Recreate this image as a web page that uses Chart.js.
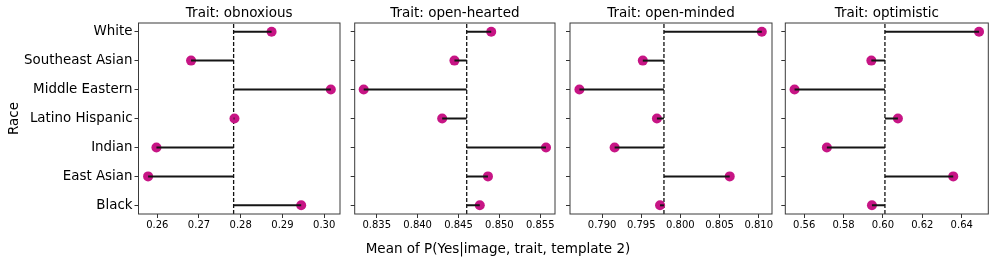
<!DOCTYPE html>
<html>
<head>
<meta charset="utf-8">
<script src="https://cdn.jsdelivr.net/npm/chart.js@4"></script>
<style>
  body { margin: 0; background: #fff; }
  #wrap { position: relative; width: 996px; height: 260px; overflow: hidden; font-family: 'DejaVu Sans', sans-serif; }
  canvas { position: absolute; top: 0; }
  #xtitle { position: absolute; left: 0; width: 996px; top: 240px; text-align: center; font-size: 13.5px; line-height: 16px; color: #000; }
</style>
</head>
<body>
<div id="wrap">
  <canvas id="c0"></canvas>
  <canvas id="c1"></canvas>
  <canvas id="c2"></canvas>
  <canvas id="c3"></canvas>
  <div id="xtitle">Mean of P(Yes|image, trait, template 2)</div>
</div>
<script>
// rows, bottom to top
const races = ['Black', 'East Asian', 'Indian', 'Latino Hispanic', 'Middle Eastern', 'Southeast Asian', 'White'];

const traits = ['obnoxious', 'open-hearted', 'open-minded', 'optimistic'];

const obnoxious   = [0.2945, 0.2578, 0.2598, 0.2785, 0.3016, 0.2681, 0.2874];
const openHearted = [0.8476, 0.8486, 0.8557, 0.8430, 0.8334, 0.8445, 0.8490];
const openMinded  = [0.7974, 0.8063, 0.7916, 0.7970, 0.7871, 0.7952, 0.8104];
const optimistic  = [0.5944, 0.6357, 0.5715, 0.6076, 0.5551, 0.5941, 0.6488];

// dashed reference line (mean of each panel)
const means = [0.2783, 0.8460, 0.7979, 0.6010];

const xMins = [0.2555, 0.8323, 0.7859, 0.5504];
const xMaxs = [0.3038, 0.8568, 0.8117, 0.6535];

const xTickLabels = [
  ['0.26', '0.27', '0.28', '0.29', '0.30'],
  ['0.835', '0.840', '0.845', '0.850', '0.855'],
  ['0.790', '0.795', '0.800', '0.805', '0.810'],
  ['0.56', '0.58', '0.60', '0.62', '0.64']
];

const seriesList = [obnoxious, openHearted, openMinded, optimistic];

const yMin = -0.3, yMax = 6.3;

// canvas placement: [canvas left, canvas width, y axis width, right padding]
const boxes = [
  [0, 345, 138.5, 3.5],
  [340, 220, 14.7, 3.3],
  [555, 222, 15, 3.7],
  [770, 226, 15.3, 7.7]
];

Chart.defaults.font.family = "'DejaVu Sans', sans-serif";
Chart.defaults.color = '#000';

const frame = {
  id: 'frame',
  afterDraw(chart) {
    const a = chart.chartArea, ctx = chart.ctx;
    ctx.save();
    ctx.strokeStyle = '#3a3a3a';
    ctx.lineWidth = 1;
    ctx.strokeRect(a.left, a.top, a.right - a.left, a.bottom - a.top);
    ctx.restore();
  }
};

traits.forEach((trait, p) => {
  const vals = seriesList[p];
  const mean = means[p];
  const b = boxes[p];
  const cv = document.getElementById('c' + p);
  cv.width = b[1];
  cv.height = 260;
  cv.style.left = b[0] + 'px';

  const datasets = [];
  // lollipop stems
  races.forEach((r, i) => {
    datasets.push({
      type: 'scatter',
      data: [{x: mean, y: i}, {x: vals[i], y: i}],
      showLine: true,
      borderColor: '#151515',
      borderWidth: 2,
      pointRadius: 0,
      order: 0
    });
  });
  // points
  datasets.push({
    type: 'scatter',
    data: races.map((r, i) => ({x: vals[i], y: i})),
    pointRadius: 5,
    pointBackgroundColor: '#c71585',
    pointBorderWidth: 0,
    order: 1
  });
  // mean line
  datasets.push({
    type: 'scatter',
    data: [{x: mean, y: yMin}, {x: mean, y: yMax}],
    showLine: true,
    borderColor: '#111',
    borderWidth: 1.3,
    borderDash: [4, 2],
    pointRadius: 0,
    order: 2
  });

  new Chart(cv, {
    type: 'scatter',
    data: { datasets },
    options: {
      responsive: false,
      animation: false,
      devicePixelRatio: 1,
      layout: { padding: { left: 0, right: b[3], top: 0, bottom: 0 } },
      plugins: {
        legend: { display: false },
        tooltip: { enabled: false },
        title: {
          display: true,
          fullSize: false,
          text: 'Trait: ' + trait,
          font: { size: 13.5, weight: 'normal', lineHeight: 1.2 },
          color: '#000',
          padding: { top: 5.5, bottom: 1.3 }
        }
      },
      scales: {
        x: {
          type: 'linear',
          min: xMins[p],
          max: xMaxs[p],
          afterBuildTicks: s => { s.ticks = xTickLabels[p].map(t => ({ value: parseFloat(t) })); },
          afterFit: s => { s.height = 46; },
          ticks: {
            font: { size: 10 },
            color: '#000',
            padding: 1,
            maxRotation: 0,
            callback: (v, i) => xTickLabels[p][i]
          },
          grid: { drawOnChartArea: false, drawTicks: true, tickLength: 4, color: '#333' },
          border: { display: false }
        },
        y: {
          type: 'linear',
          min: yMin,
          max: yMax,
          afterBuildTicks: s => { s.ticks = races.map((r, i) => ({ value: i })); },
          afterFit: s => { s.width = b[2]; },
          ticks: {
            display: p === 0,
            font: { size: 13.4 },
            color: '#000',
            padding: 2,
            callback: v => races[v]
          },
          title: {
            display: p === 0,
            text: 'Race',
            font: { size: 13.4 },
            color: '#000',
            padding: { top: 6, bottom: 0 }
          },
          grid: { drawOnChartArea: false, drawTicks: true, tickLength: 4, color: '#333' },
          border: { display: false }
        }
      }
    },
    plugins: [frame]
  });
});
</script>
</body>
</html>
